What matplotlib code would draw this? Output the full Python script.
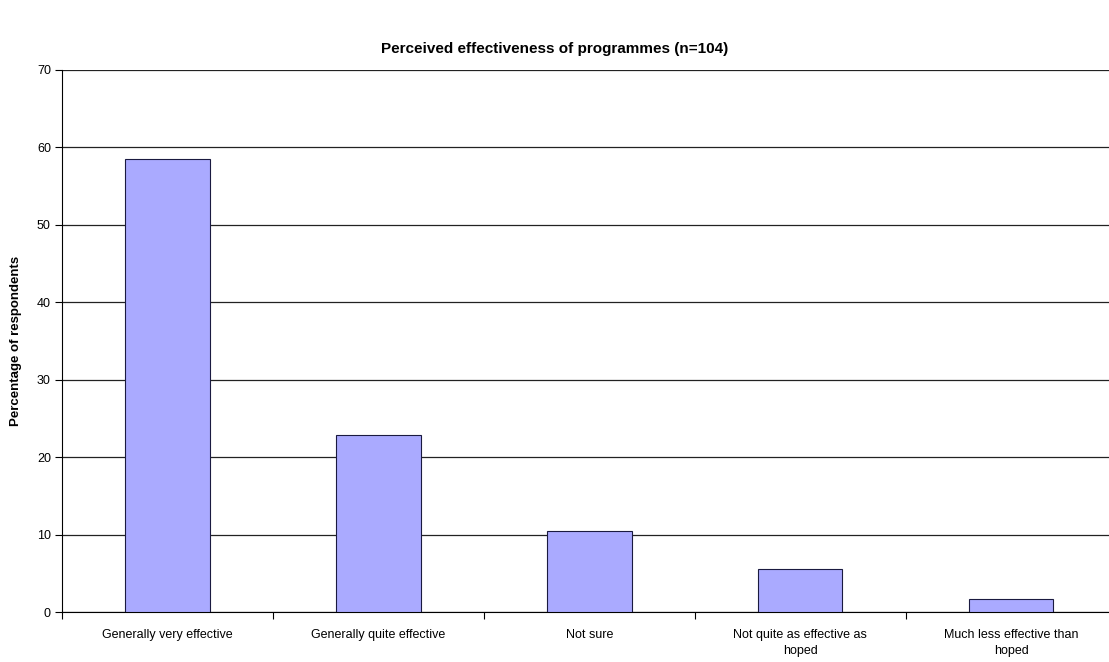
import matplotlib.pyplot as plt
import numpy as np

plt.rcParams['font.family'] = ['Liberation Sans', 'DejaVu Sans']

# Survey responses
categories = [
    "Generally very effective",
    "Generally quite effective",
    "Not sure",
    "Not quite as effective as\nhoped",
    "Much less effective than\nhoped",
]
percentages = [58.5, 22.9, 10.5, 5.6, 1.7]

fig = plt.figure(figsize=(11.09, 6.62), dpi=100)
# plot area runs a little past the right edge of the figure
ax = fig.add_axes([0.0559, 0.0755, 0.951, 0.819])

x = np.arange(len(categories))
ax.bar(x, percentages, width=0.40, color='#aaaaff', edgecolor='#1a1a40', linewidth=0.8, zorder=3)

# Axes limits and gridlines
ax.set_xlim(-0.5, len(categories) - 0.5)
ax.set_ylim(0, 70)
ax.set_yticks(range(0, 71, 10))
ax.yaxis.grid(True, color='#222222', linewidth=0.9, zorder=0)
ax.tick_params(axis='y', labelsize=9, length=5, width=0.8, pad=3)

# Tick marks between categories, labels centred under bars
ax.set_xticks(np.arange(-0.5, len(categories), 1.0))
ax.set_xticklabels([])
ax.tick_params(axis='x', which='major', length=5, width=0.8, direction='out')
ax.set_xticks(x, minor=True)
ax.set_xticklabels(categories, minor=True, fontsize=9, linespacing=1.5)
ax.tick_params(axis='x', which='minor', length=0, pad=12)

for side in ['top', 'right']:
    ax.spines[side].set_visible(False)
ax.spines['left'].set_linewidth(0.8)
ax.spines['bottom'].set_linewidth(0.8)

ax.set_ylabel("Percentage of respondents", fontsize=9.5, fontweight='bold', labelpad=11)
fig.suptitle("Perceived effectiveness of programmes (n=104)", fontsize=11, fontweight='bold', y=0.937)

fig.savefig('out.png', dpi=100)
